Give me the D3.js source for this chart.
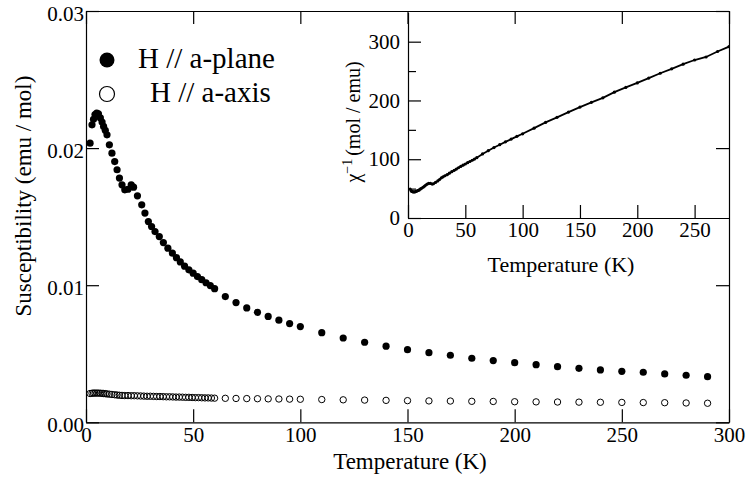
<!DOCTYPE html>
<html>
<head>
<meta charset="utf-8">
<script src="https://cdn.jsdelivr.net/npm/d3@7"></script>
<style>
    body { margin: 0; background: #fff; }
    svg text { font-family: "Liberation Serif", "Times New Roman", serif; fill: #000; }
    .axis text { font-size: 21px; }
    .axis path, .axis line { stroke: #000; stroke-width: 1.2; }
</style>
</head>
<body>
<svg id="chart"></svg>
<script>
/* =====================================================
   DATA
===================================================== */
// H // a-plane  (filled circles)
const tempPlane = [1.9, 2.8, 3.5, 4.2, 5.0, 5.8, 6.7, 7.5, 8.2, 9.0,
    9.8, 10.9, 12.1, 13.4, 14.5, 15.6, 16.8, 18.1, 19.6, 21.1,
    22.2, 24.0, 26.0, 27.5, 29.1, 30.6, 32.2, 34.2, 36.1, 38.2,
    40.3, 42.2, 44, 46, 48, 50, 52, 54, 56, 58,
    60, 65, 70, 75, 80, 85, 90, 95, 100, 110,
    120, 130, 140, 150, 160, 170, 180, 190, 200, 210, 220, 230, 240, 250, 260, 270, 280, 290];
const chiPlane = [0.02036, 0.0217, 0.0221, 0.02245, 0.02255, 0.0225, 0.0222, 0.0219, 0.02158, 0.0213,
    0.02097, 0.02024, 0.01963, 0.01902, 0.01842, 0.01781, 0.01732, 0.01696, 0.0170, 0.01732,
    0.01715, 0.01652, 0.01586, 0.01526, 0.01464, 0.01428, 0.01391, 0.01355, 0.01311, 0.0127,
    0.01234, 0.01201, 0.0117, 0.01139, 0.01112, 0.01088, 0.01063, 0.0104, 0.01018, 0.00997,
    0.00975, 0.00917, 0.00873, 0.00834, 0.00802, 0.00772, 0.00745, 0.0072, 0.00698, 0.00654,
    0.00615, 0.00584, 0.00555, 0.0053, 0.00508, 0.00489, 0.00467, 0.0045, 0.00435, 0.0042,
    0.00406, 0.00394, 0.00382, 0.00372, 0.00365, 0.00353, 0.00343, 0.00333];

// H // a-axis  (open circles)
const tempAxis = [1.9, 2.8, 3.5, 4.2, 5.0, 5.8, 6.7, 7.5, 8.2, 9.0,
    9.8, 10.9, 12.1, 13.4, 14.5, 15.6, 16.8, 18.1, 19.6, 21.1,
    22.5, 24, 25.5, 27, 28.5, 30, 31.5, 33, 34.5, 36,
    37.5, 39, 40.5, 42, 43.5, 45, 46.5, 48, 49.5, 51,
    52.5, 54, 55.5, 57, 58.5, 60, 65, 70, 75, 80, 85, 90, 95, 100,
    110, 120, 130, 140, 150, 160, 170, 180, 190, 200, 210, 220, 230, 240, 250, 260, 270, 280, 290];
const chiAxis = [0.00210, 0.00212, 0.00213, 0.00213, 0.00213, 0.00213, 0.00212, 0.00211, 0.0021, 0.00209,
    0.00207, 0.00205, 0.00203, 0.00201, 0.00199, 0.00197, 0.00196, 0.00195, 0.00195, 0.00194,
    0.00194, 0.00193, 0.00192, 0.00191, 0.0019, 0.0019, 0.00189, 0.00188, 0.00188, 0.00187,
    0.00186, 0.00186, 0.00185, 0.00184, 0.00184, 0.00183, 0.00182, 0.00182, 0.00181, 0.0018,
    0.0018, 0.00179, 0.00178, 0.00178, 0.00177, 0.00176, 0.00175, 0.00174, 0.00173, 0.00172,
    0.00171, 0.0017, 0.00169, 0.00168,
    0.00166, 0.00164, 0.00162, 0.0016, 0.00158, 0.00156, 0.00155, 0.00153, 0.00152, 0.0015,
    0.00149, 0.00148, 0.00147, 0.00146, 0.00145, 0.00144, 0.00143, 0.00141, 0.00139];

// ticks
const xTicks = [0, 50, 100, 150, 200, 250, 300];
const yTicks = [0, 0.01, 0.02, 0.03];
const insetXTicks = [0, 50, 100, 150, 200, 250];
const insetYTicks = [0, 100, 200, 300];
const insetYMinor = [50, 150, 250];

const legendLabels = ["H // a-plane", "H // a-axis"];

/* =====================================================
   SETUP
===================================================== */
const W = 747, H = 481;
const svg = d3.select("#chart").attr("width", W).attr("height", H);

const x = d3.scaleLinear().domain([0, 300]).range([86, 729]);
const y = d3.scaleLinear().domain([0, 0.03]).range([422.3, 11]);

const xi = d3.scaleLinear().domain([0, 280]).range([408, 729]);
const yi = d3.scaleLinear().domain([0, 350]).range([218, 12.3]);

/* =====================================================
   MAIN AXES (ticks inward on all four sides)
===================================================== */
svg.append("g").attr("class", "axis")
    .attr("transform", `translate(0,${y(0)})`)
    .call(d3.axisBottom(x).tickValues(xTicks).tickSize(-13).tickSizeOuter(0).tickPadding(5));

svg.append("g").attr("class", "axis")
    .attr("transform", `translate(0,${y(0.03)})`)
    .call(d3.axisTop(x).tickValues(xTicks).tickSize(-13).tickSizeOuter(0).tickFormat(""));

svg.append("g").attr("class", "axis")
    .attr("transform", `translate(${x(0)},0)`)
    .call(d3.axisLeft(y).tickValues(yTicks).tickSize(-13).tickSizeOuter(0).tickPadding(2)
        .tickFormat(d3.format(".2f")))
    .selectAll("text").attr("dy", "0.45em");

svg.append("g").attr("class", "axis")
    .attr("transform", `translate(${x(300)},0)`)
    .call(d3.axisRight(y).tickValues(yTicks).tickSize(-13).tickSizeOuter(0).tickFormat(""));

svg.append("text")
    .attr("x", 410).attr("y", 469)
    .attr("text-anchor", "middle")
    .style("font-size", "23px")
    .text("Temperature (K)");

svg.append("text")
    .attr("transform", "translate(31,196) rotate(-90)")
    .attr("text-anchor", "middle")
    .style("font-size", "23px")
    .text("Susceptibility (emu / mol)");

/* =====================================================
   MAIN DATA
===================================================== */
svg.append("g").selectAll("circle")
    .data(tempAxis.map((t, i) => [t, chiAxis[i]]))
    .join("circle")
    .attr("cx", d => x(d[0]))
    .attr("cy", d => y(d[1]))
    .attr("r", 3.2)
    .attr("fill", "none")
    .attr("stroke", "#000")
    .attr("stroke-width", 1);

svg.append("g").selectAll("circle")
    .data(tempPlane.map((t, i) => [t, chiPlane[i]]))
    .join("circle")
    .attr("cx", d => x(d[0]))
    .attr("cy", d => y(d[1]))
    .attr("r", 3.6)
    .attr("fill", "#000");

/* =====================================================
   LEGEND
===================================================== */
svg.append("circle").attr("cx", 107).attr("cy", 60).attr("r", 7.5).attr("fill", "#000");
svg.append("text").attr("x", 138).attr("y", 68).style("font-size", "29px").text(legendLabels[0]);

svg.append("circle").attr("cx", 107).attr("cy", 94).attr("r", 7.5)
    .attr("fill", "none").attr("stroke", "#000").attr("stroke-width", 1.2);
svg.append("text").attr("x", 150).attr("y", 102).style("font-size", "29px").text(legendLabels[1]);

/* =====================================================
   INSET: inverse susceptibility of the a-plane data
===================================================== */
const inset = svg.append("g");

inset.append("clipPath").attr("id", "insetClip")
    .append("rect")
    .attr("x", xi(0)).attr("y", yi(350))
    .attr("width", xi(280) - xi(0)).attr("height", yi(0) - yi(350));

const invData = tempPlane.map((t, i) => [t, 1 / chiPlane[i]]);

inset.append("path")
    .datum(invData)
    .attr("clip-path", "url(#insetClip)")
    .attr("fill", "none")
    .attr("stroke", "#000")
    .attr("stroke-width", 1.8)
    .attr("d", d3.line().x(d => xi(d[0])).y(d => yi(d[1])));

inset.append("g").attr("clip-path", "url(#insetClip)")
    .selectAll("circle")
    .data(invData)
    .join("circle")
    .attr("cx", d => xi(d[0]))
    .attr("cy", d => yi(d[1]))
    .attr("r", 1.6)
    .attr("fill", "#000");

inset.append("g").attr("class", "axis")
    .attr("transform", `translate(0,${yi(0)})`)
    .call(d3.axisBottom(xi).tickValues(insetXTicks).tickSize(-13).tickSizeOuter(0).tickPadding(4));

inset.append("g").attr("class", "axis")
    .attr("transform", `translate(${xi(0)},0)`)
    .call(d3.axisLeft(yi).tickValues(insetYTicks).tickSize(-13).tickSizeOuter(0).tickPadding(8));

inset.append("g").attr("class", "axis")
    .attr("transform", `translate(${xi(0)},0)`)
    .call(d3.axisLeft(yi).tickValues(insetYMinor).tickSize(-8).tickSizeOuter(0).tickFormat(""))
    .select(".domain").remove();

inset.append("text")
    .attr("x", 561).attr("y", 272)
    .attr("text-anchor", "middle")
    .style("font-size", "22px")
    .text("Temperature (K)");

const yiLabel = inset.append("text")
    .attr("transform", "translate(360,122) rotate(-90)")
    .attr("text-anchor", "middle")
    .style("font-size", "20px");
yiLabel.append("tspan").text("χ");
yiLabel.append("tspan").attr("dy", -8).style("font-size", "14px").text("−1");
yiLabel.append("tspan").attr("dy", 8).attr("dx", 3).text("(mol / emu)");
</script>
</body>
</html>
